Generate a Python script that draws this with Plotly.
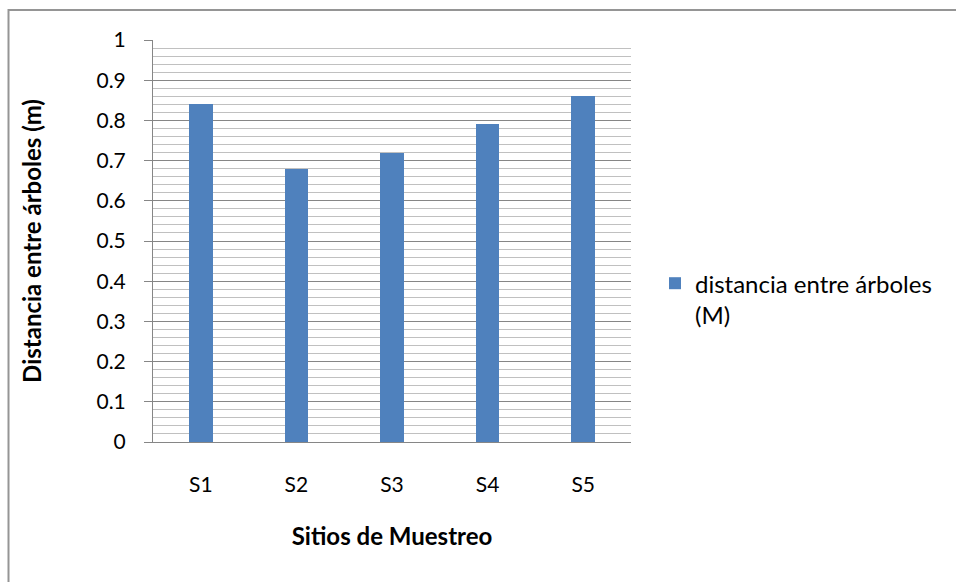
import plotly.graph_objects as go

# Sampling sites and mean tree spacing
sitios = ["S1", "S2", "S3", "S4", "S5"]
distancia = [0.84, 0.68, 0.72, 0.79, 0.86]
serie = "distancia entre árboles<br>(M)"

FONT = "Lato, 'Open Sans', sans-serif"
BAR = "#4f81bd"

fig = go.Figure()
fig.add_trace(go.Bar(
    x=sitios, y=distancia, name=serie,
    marker=dict(color=BAR, line=dict(width=0)),
    width=0.245, showlegend=True,
))

W, H = 956, 582
L, R, T, B = 153, 325, 39.5, 139.5

fig.update_layout(
    width=W, height=H,
    margin=dict(l=L, r=R, t=T, b=B, pad=0),
    paper_bgcolor="white", plot_bgcolor="white",
    font=dict(family=FONT, size=21, color="#000000"),
    bargap=0,
    legend=dict(
        x=1.0502, y=0.45, xanchor="left", yanchor="top",
        font=dict(size=24, family=FONT), valign="top",
        bgcolor="rgba(0,0,0,0)", itemwidth=30,
    ),
    xaxis=dict(
        showgrid=False, showline=True, linecolor="#868686", linewidth=1,
        ticks="", ticklabelstandoff=24,
        tickfont=dict(size=21, family=FONT),
        title=dict(text="<b>Sitios de Muestreo</b>", font=dict(size=24, family=FONT), standoff=32),
        range=[-0.5, 4.5],
    ),
    yaxis=dict(
        range=[0, 1], dtick=0.1, tick0=0,
        showline=True, linecolor="#868686", linewidth=1,
        ticks="outside", ticklen=8, tickcolor="#868686",
        ticklabelstandoff=14,
        tickfont=dict(size=21, family=FONT),
        showgrid=True, gridcolor="#868686", gridwidth=1,
        minor=dict(dtick=0.02, showgrid=True, gridcolor="#c0c0c0", gridwidth=1, ticks=""),
        zeroline=False,
        title=dict(text="<b>Distancia entre árboles (m)</b>", font=dict(size=24, family=FONT), standoff=48),
    ),
)

# outer chart border
pw, ph = W - L - R, H - T - B
x0 = (8.5 - L) / pw
y1 = (H - B - 9.5) / ph
fig.add_shape(type="rect", xref="paper", yref="paper",
              x0=x0, x1=2.0, y0=-1.0, y1=y1,
              line=dict(color="#959595", width=2), fillcolor="rgba(0,0,0,0)", layer="below")

fig.write_html("out.html")
